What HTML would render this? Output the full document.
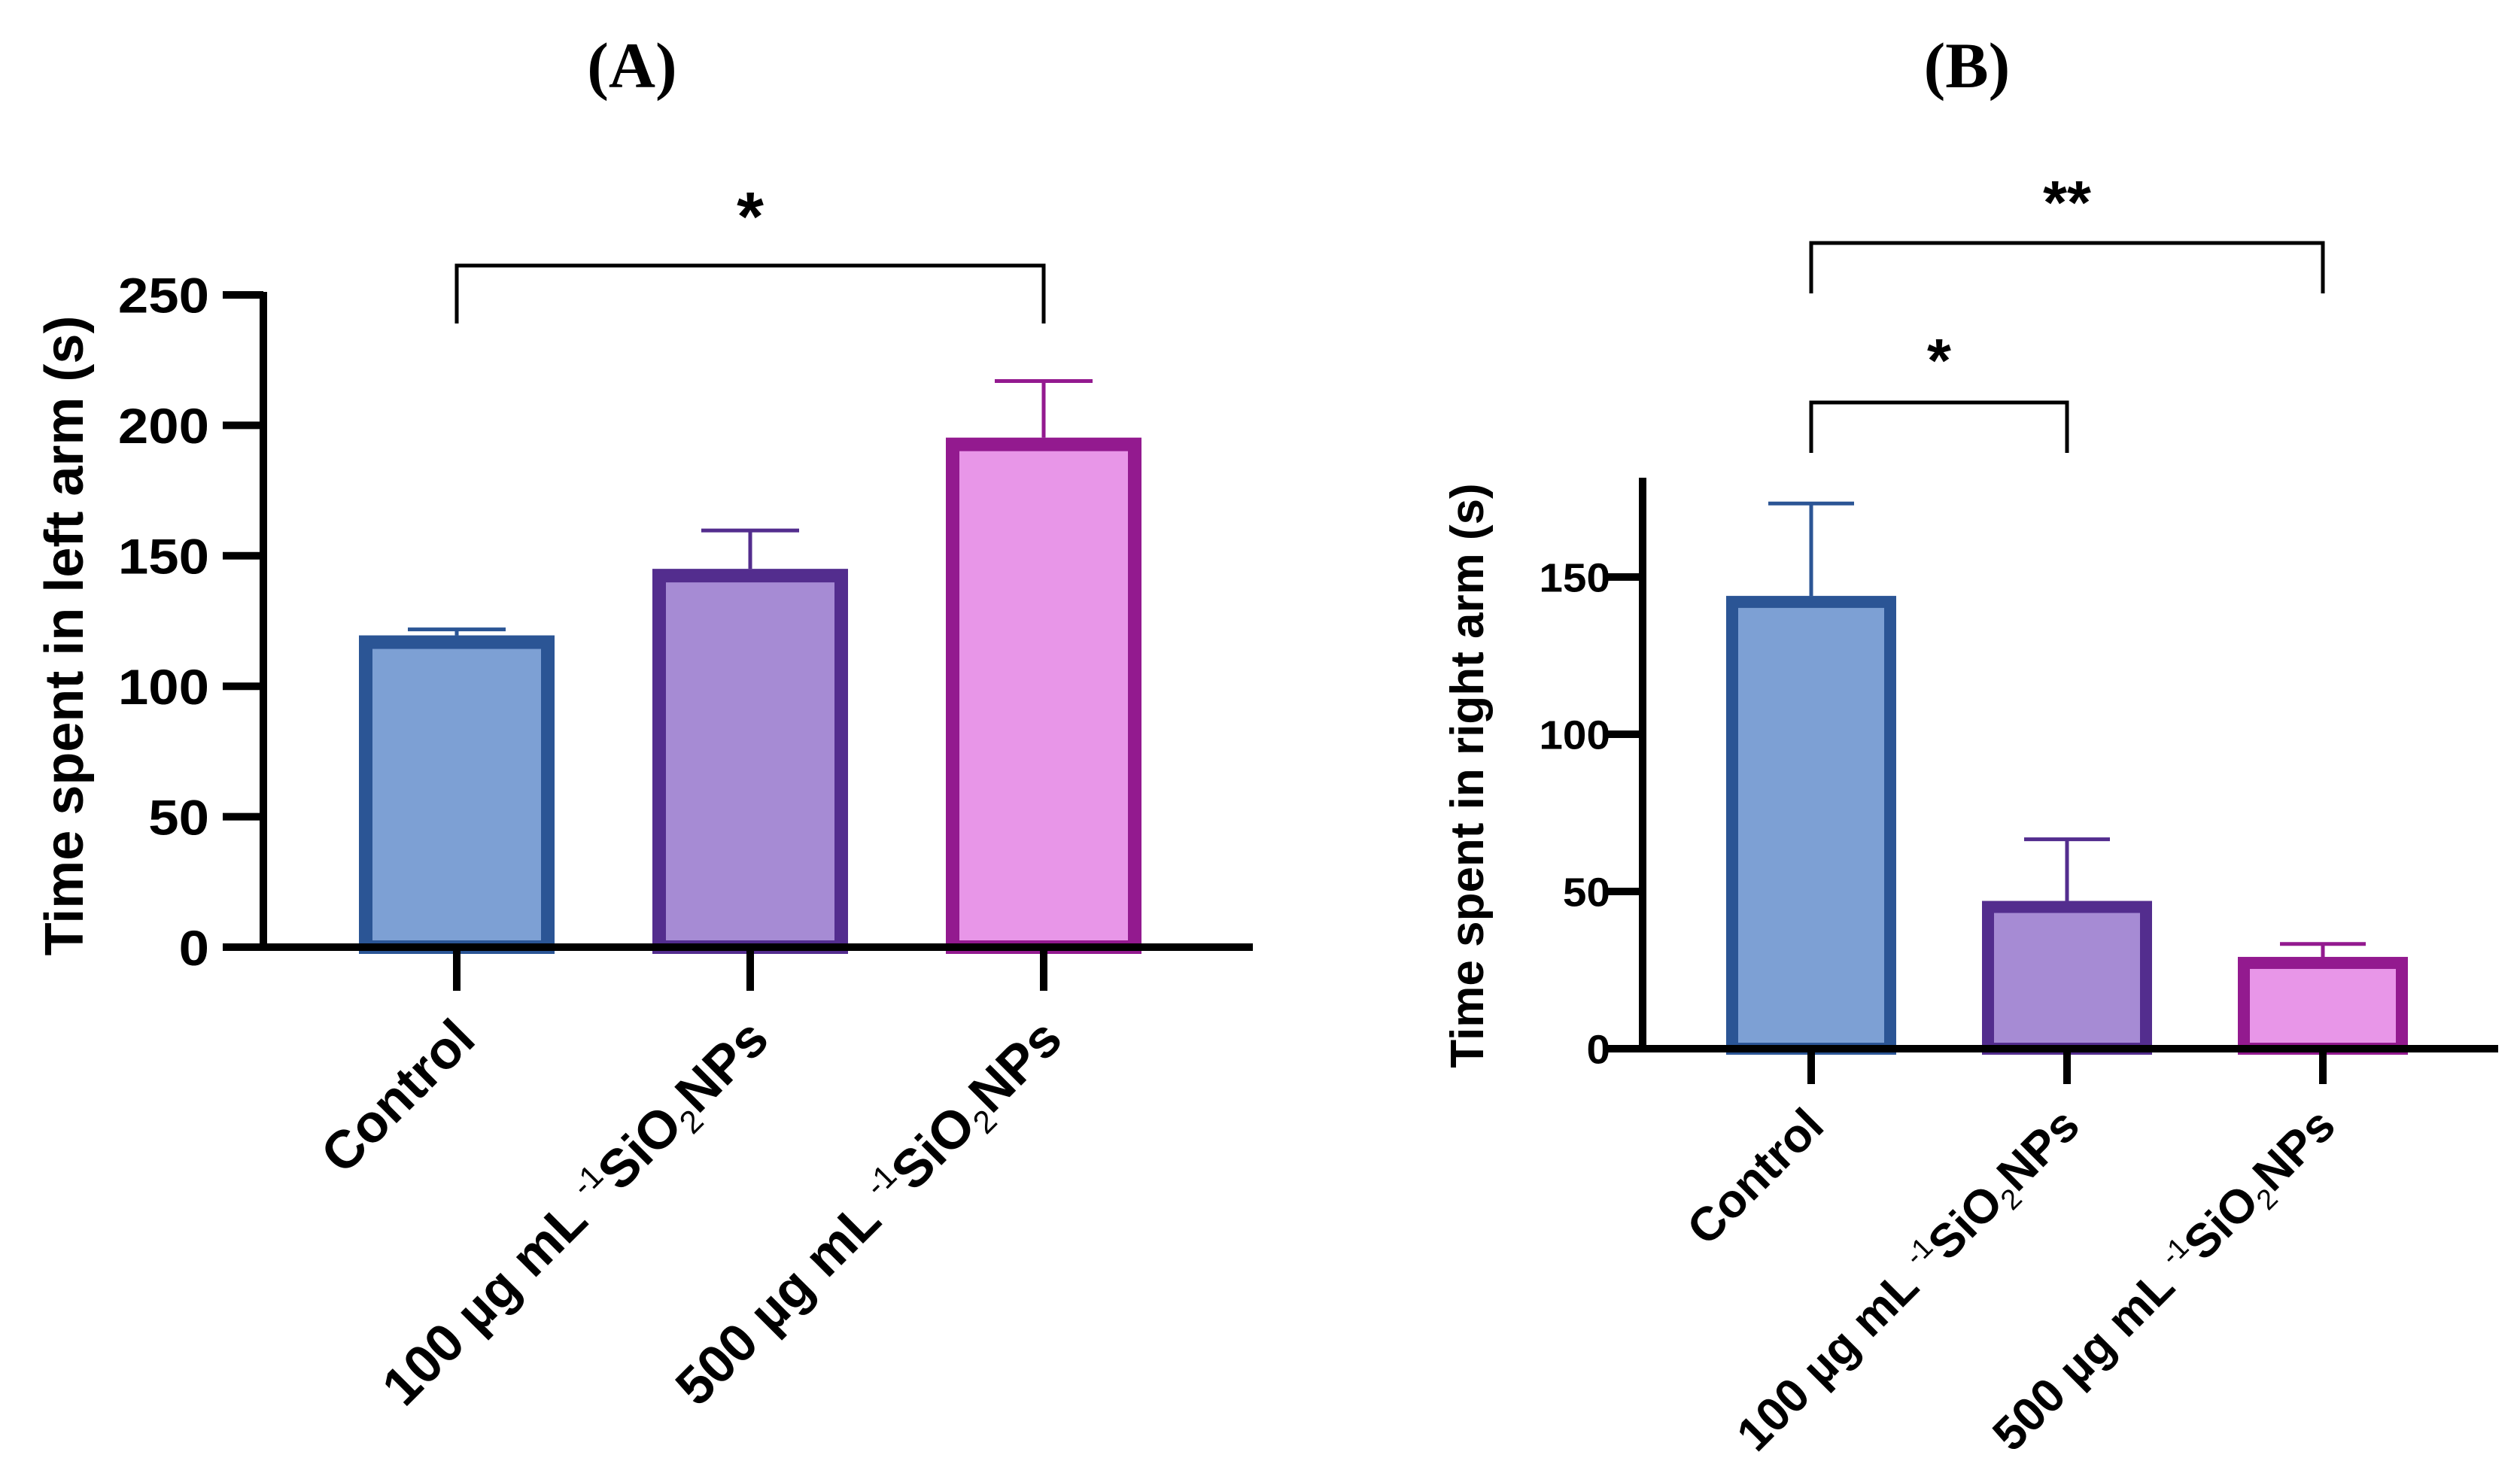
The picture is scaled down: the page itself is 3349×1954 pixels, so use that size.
<!DOCTYPE html>
<html><head><meta charset="utf-8"><style>
html,body{margin:0;padding:0;background:#fff;}
svg{display:block;font-family:"Liberation Sans",Arial,sans-serif;}
</style></head><body>
<svg id="fig" width="3349" height="1954" viewBox="0 0 3349 1954" xmlns="http://www.w3.org/2000/svg">
<rect x="0" y="0" width="3349" height="1954" fill="#fff"/>
<text x="840" y="116" text-anchor="middle" font-family="Liberation Serif, serif" font-weight="bold" font-size="86">(A)</text>
<text x="2614" y="116" text-anchor="middle" font-family="Liberation Serif, serif" font-weight="bold" font-size="86">(B)</text>
<g id="pa"></g>
<g id="pb"></g>
</svg>
<script>
// Panel A data
const categoriesA = ["Control", "100", "500"];
const meansA = [119.5, 145, 195.3];
const errTopA = [121.8, 159.7, 217];
const ticksA = [0, 50, 100, 150, 200, 250];
// Panel B data
const categoriesB = ["Control", "100", "500"];
const meansB = [144, 47, 29.2];
const errTopB = [173.4, 66.6, 33.3];
const ticksB = [0, 50, 100, 150];

const fills = ["#7DA0D4", "#A68BD4", "#E896E8"];
const borders = ["#2B5595", "#532D8E", "#931A8F"];
const NS = "http://www.w3.org/2000/svg";

function mk(parent, tag, attrs) {
  const e = document.createElementNS(NS, tag);
  for (const k in attrs) e.setAttribute(k, attrs[k]);
  parent.appendChild(e);
  return e;
}

function drawPanel(g, cfg, cats, means, errs, ticks) {
  const y = v => cfg.y0 - (v - 0) * (cfg.y0 - cfg.yTop) / (cfg.vTop - 0);
  const x = i => cfg.x0 + i * cfg.step;
  cats.forEach((c, i) => {
    const cx = x(i), top = y(means[i]), bw = cfg.bw, b = cfg.border;
    const r = mk(g, 'rect', {x: cx - bw/2 + b/2, y: top + b/2, width: bw - b, height: cfg.y0 - top - b/2, fill: fills[i], stroke: borders[i], 'stroke-width': b});
    
    
    const et = y(errs[i]);
    const l = mk(g, 'path', {d: `M${cx},${top} V${et} M${cx - cfg.cap/2},${et} H${cx + cfg.cap/2}`, stroke: borders[i], 'stroke-width': 5, fill: 'none'});
    
    
  });
  const ya = mk(g, 'line', {x1: cfg.ax, y1: cfg.axisTop, x2: cfg.ax, y2: cfg.y0 + 5, stroke: '#000', 'stroke-width': 10});
  
  
  const xa = mk(g, 'line', {x1: cfg.ax - cfg.tl, y1: cfg.y0, x2: cfg.xEnd, y2: cfg.y0, stroke: '#000', 'stroke-width': 10});
  
  
  ticks.forEach(t => {
    const tk = mk(g, 'line', {x1: cfg.ax - cfg.tl, y1: y(t), x2: cfg.ax, y2: y(t), stroke: '#000', 'stroke-width': 10});
    
    
    const tx = mk(g, 'text', {x: cfg.labX, y: y(t) + cfg.tfs * 0.36, 'text-anchor': 'end', 'font-size': cfg.tfs, 'font-weight': 'bold', transform: `translate(${cfg.labX},0) scale(${cfg.tsx},1) translate(${-cfg.labX},0)`});
    tx.textContent = t;
    
    
  });
  cats.forEach((c, i) => {
    const tk = mk(g, 'line', {x1: x(i), y1: cfg.y0, x2: x(i), y2: cfg.xtEnd, stroke: '#000', 'stroke-width': 10});
    
    
    const ax = x(i) + cfg.lx, ay = cfg.ly;
    const tx = mk(g, 'text', {x: ax, y: ay, 'text-anchor': 'end', 'font-size': cfg.lfs, 'font-weight': 'bold', transform: `rotate(-45 ${ax} ${ay})`});
    if (c === 'Control') {
      tx.textContent = 'Control';
    } else {
      tx.innerHTML = c + ' µg mL <tspan font-size="' + (cfg.lfs*0.6) + '" dy="' + (-cfg.lfs*0.4) + '" font-weight="normal">-1</tspan><tspan dy="' + (cfg.lfs*0.4) + '">SiO</tspan><tspan font-size="' + (cfg.lfs*0.6) + '" dy="' + (cfg.lfs*0.2) + '" font-weight="normal">2</tspan><tspan dy="' + (-cfg.lfs*0.2) + '">NPs</tspan>';
    }
    
    
  });
  const yt = mk(g, 'text', {x: cfg.titleX, y: cfg.titleY, 'text-anchor': 'middle', 'font-size': cfg.titleFs, 'font-weight': 'bold', transform: `rotate(-90 ${cfg.titleX} ${cfg.titleY})`});
  yt.textContent = cfg.title;
  
  
  cfg.brackets.forEach(bk => {
    const p = mk(g, 'path', {d: `M${x(bk.a)},${bk.leg} V${bk.y} H${x(bk.b)} V${bk.leg}`, stroke: '#000', 'stroke-width': 5, fill: 'none'});
    
    
    const s = mk(g, 'text', {x: (x(bk.a) + x(bk.b)) / 2, y: bk.sy + bk.fs * 0.58, 'text-anchor': 'middle', 'font-size': bk.fs, 'font-weight': 'bold'});
    s.textContent = bk.star;
    
    
  });
}

drawPanel(document.getElementById('pa'), {
  y0: 1259, yTop: 392, vTop: 250, x0: 607, step: 390, bw: 260, border: 18, cap: 130,
  ax: 350, axisTop: 388, tl: 54, xEnd: 1665, xtEnd: 1317, labX: 278, tfs: 66, tsx: 1.1,
  lx: 28, ly: 1385, lfs: 71, titleX: 110, titleY: 845, titleFs: 72, title: 'Time spent in left arm (s)',
  brackets: [{a: 0, b: 2, y: 353, leg: 430, sy: 266, fs: 92, star: '*'}]
}, categoriesA, meansA, errTopA, ticksA);

drawPanel(document.getElementById('pb'), {
  y0: 1394, yTop: 767, vTop: 150, x0: 2407, step: 340, bw: 226, border: 16, cap: 114,
  ax: 2183, axisTop: 635, tl: 48, xEnd: 3320, xtEnd: 1441, labX: 2140, tfs: 54, tsx: 1.05,
  lx: 20, ly: 1500, lfs: 63, titleX: 1971, titleY: 1031, titleFs: 62, title: 'Time spent in right arm (s)',
  brackets: [{a: 0, b: 2, y: 323, leg: 390, sy: 250, fs: 82, star: '**'}, {a: 0, b: 1, y: 535, leg: 602, sy: 460, fs: 82, star: '*'}]
}, categoriesB, meansB, errTopB, ticksB);
</script>
</body></html>
